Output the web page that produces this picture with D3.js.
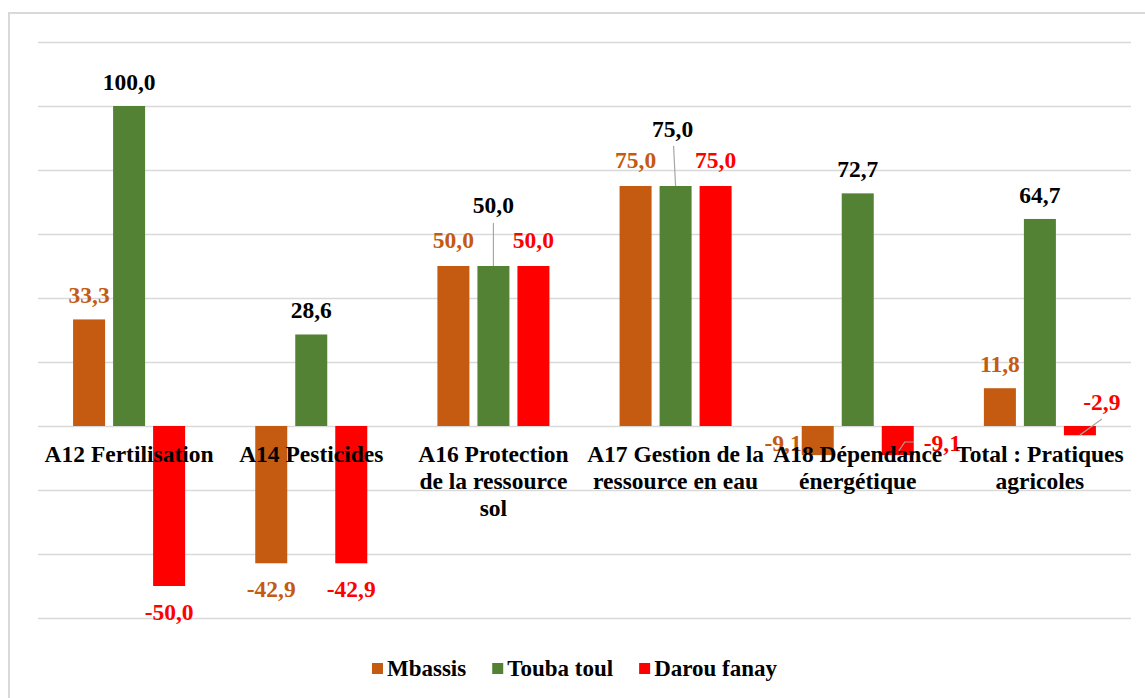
<!DOCTYPE html>
<html><head><meta charset="utf-8">
<script src="https://cdn.jsdelivr.net/npm/d3@7"></script>
<style>body{margin:0;background:#fff} svg{display:block} svg text{font-family:"Liberation Serif","Times New Roman",serif;font-weight:bold}</style>
</head><body>
<svg id="chart" width="1145" height="698"></svg>
<script>
// ---- data ----
const categories = ["A12 Fertilisation","A14 Pesticides","A16 Protection de la ressource sol","A17 Gestion de la ressource en eau","A18 Dépendance énergétique","Total : Pratiques agricoles"];
const categoryLines = [["A12 Fertilisation"],["A14 Pesticides"],["A16 Protection","de la ressource","sol"],["A17 Gestion de la","ressource en eau"],["A18 Dépendance","énergétique"],["Total : Pratiques","agricoles"]];
const seriesNames = ["Mbassis","Touba toul","Darou fanay"];
const mbassis = [33.3,-42.9,50.0,75.0,-9.1,11.8];
const toubaToul = [100.0,28.6,50.0,75.0,72.7,64.7];
const darouFanay = [-50.0,-42.9,50.0,75.0,-9.1,-2.9];
const yTicks = [-60,-40,-20,0,20,40,60,80,100,120];

// ---- styles ----
const colors = ["#C55A11","#548235","#FF0000"];
const labelColors = ["#C55A11","#000000","#FF0000"];
const FS = 23.5;

const seriesValues = [mbassis, toubaToul, darouFanay];
const svg = d3.select("#chart");
const pLeft = 38, pRight = 1131, pTop = 42, pBottom = 618;

// border
svg.append("rect").attr("x",9).attr("y",13).attr("width",1200).attr("height",700)
  .attr("fill","none").attr("stroke","#d9d9d9").attr("stroke-width",2);

const y = d3.scaleLinear().domain([-60,120]).range([pBottom, pTop]);
const x0 = d3.scaleBand().domain(categories).range([pLeft, pRight]).paddingInner(0.385).paddingOuter(0.1926);
const x1 = d3.scaleBand().domain(seriesNames).range([0, x0.bandwidth()]).paddingInner(0.2);

// gridlines
const grid = svg.append("g").attr("transform",`translate(${pLeft},0)`)
  .call(d3.axisLeft(y).tickValues(yTicks).tickSize(-(pRight-pLeft)).tickFormat(""));
grid.select(".domain").remove();
grid.selectAll("line").attr("stroke","#d9d9d9").attr("stroke-width",1.5);

// bars
const barData = [];
categories.forEach((c, ci) => seriesNames.forEach((s, si) => {
  barData.push({c, ci, s, si, v: seriesValues[si][ci]});
}));
const bx = d => x0(d.c) + x1(d.s);
svg.append("g").selectAll("rect").data(barData).join("rect")
  .attr("x", bx).attr("width", x1.bandwidth())
  .attr("y", d => y(Math.max(0, d.v)))
  .attr("height", d => Math.abs(y(d.v) - y(0)))
  .attr("fill", d => colors[d.si]);

// label placement overrides (layout only)
const overrides = {
  "1-2": {dy: -53, leader: d => [[0, -43],[0, 0]]},
  "1-3": {dx: -3, dy: -49, leader: d => [[-2, -40],[0, 0]]},
  "0-2": {dy: -18}, "2-2": {dy: -18},
  "0-3": {dy: -18}, "2-3": {dy: -18},
  "0-4": {anchor: "end", absX: d => bx(d), absY: 451},
  "2-4": {anchor: "start", absX: d => bx(d) + x1.bandwidth() + 10, absY: 451,
          leader: d => [[bx(d)+17, 451],[bx(d)+23, 442],[bx(d)+32, 442]], absLeader: true},
  "2-5": {dx: 22, absY: 410, leader: d => [[bx(d)+16, 435],[bx(d)+38, 419]], absLeader: true}
};

const labels = svg.append("g");
const leaders = svg.append("g");
barData.forEach(d => {
  const cx = bx(d) + x1.bandwidth()/2;
  const o = overrides[d.si + "-" + d.ci] || {};
  let tx = cx + (o.dx || 0), ty;
  if (d.v >= 0) ty = y(d.v) + (o.dy !== undefined ? o.dy : -16);
  else ty = y(d.v) + 34;
  if (o.absX) tx = o.absX(d);
  if (o.absY !== undefined) ty = o.absY;
  if (o.leader) {
    let pts = o.leader(d);
    if (!o.absLeader) pts = pts.map(p => [cx + p[0], y(d.v) + p[1]]);
    leaders.append("path").attr("d", d3.line()(pts)).attr("fill","none")
      .attr("stroke","#a6a6a6").attr("stroke-width",1.2);
  }
  labels.append("text").attr("x", tx).attr("y", ty)
    .attr("text-anchor", o.anchor || "middle")
    .attr("font-size", FS)
    .attr("fill", labelColors[d.si])
    .text(d3.format(".1f")(d.v).replace(".", ",").replace("\u2212","-"));
});

// category labels (on top of bars)
const cat = svg.append("g");
categories.forEach((c, ci) => {
  const cxc = x0(c) + x0.bandwidth()/2;
  const t = cat.append("text").attr("x", cxc).attr("y", 462)
    .attr("text-anchor","middle")
    .attr("font-size", FS).attr("fill","#000");
  categoryLines[ci].forEach((ln, li) => {
    t.append("tspan").attr("x", cxc).attr("dy", li === 0 ? 0 : 27).text(ln);
  });
});

// legend
const lg = svg.append("g");
let lx = 0;
seriesNames.forEach((s, i) => {
  const g = lg.append("g").attr("transform", `translate(${lx},0)`);
  g.append("rect").attr("x",0).attr("y",-13).attr("width",11).attr("height",11).attr("fill",colors[i]);
  const t = g.append("text").attr("x",15).attr("y",0)
    .attr("font-size",23).attr("fill","#000").text(s);
  const w = 15 + t.node().getComputedTextLength();
  lx += w + 26;
});
const totalW = lx - 26;
lg.attr("transform", `translate(${574.5 - totalW/2},676)`);
</script>
</body></html>
